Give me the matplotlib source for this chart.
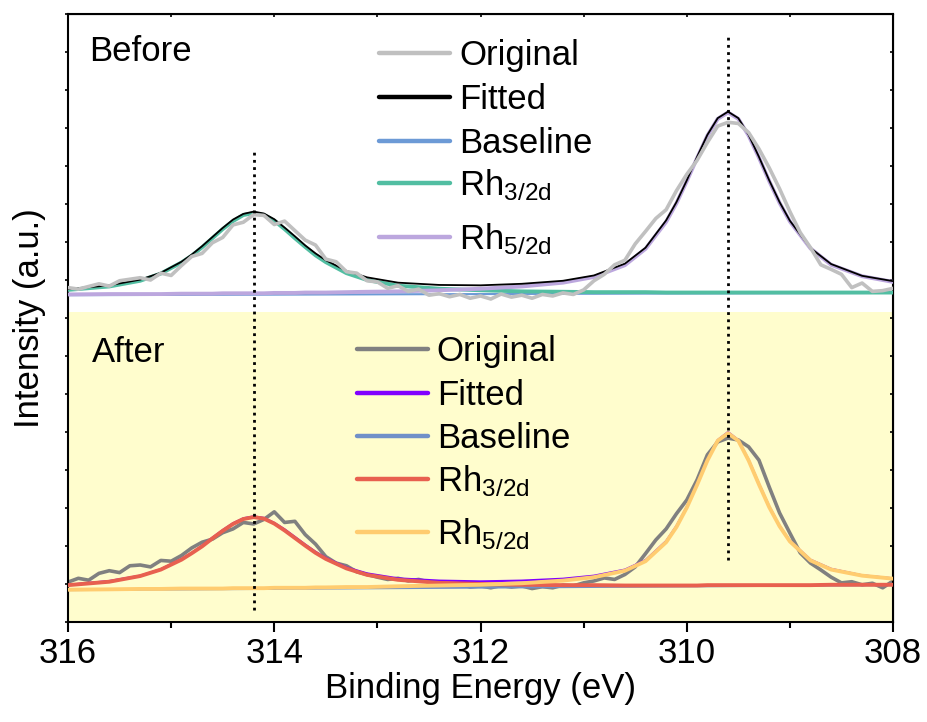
import numpy as np
import matplotlib
matplotlib.use('Agg')
import matplotlib.pyplot as plt

plt.rcParams['font.family'] = ['Liberation Sans', 'DejaVu Sans']
plt.rcParams['mathtext.fontset'] = 'custom'
plt.rcParams['mathtext.rm'] = 'Liberation Sans'
plt.rcParams['mathtext.it'] = 'Liberation Sans'
plt.rcParams['mathtext.default'] = 'rm'

# energy grid of the measured spectra (0.1 eV step)
x_raw = np.linspace(316, 308, 81)

before_orig = [8.80, 8.76, 8.83, 8.90, 8.84, 8.98, 9.02, 9.06, 9.00, 9.18,
               9.12, 9.38, 9.62, 9.70, 9.98, 10.12, 10.45, 10.52, 10.72, 10.70,
               10.46, 10.55, 10.30, 10.05, 9.92, 9.55, 9.48, 9.22, 9.18, 8.98,
               8.95, 8.78, 8.85, 8.70, 8.76, 8.60, 8.64, 8.56, 8.62, 8.52,
               8.58, 8.50, 8.63, 8.55, 8.60, 8.52, 8.62, 8.58, 8.66, 8.62,
               8.74, 8.98, 9.15, 9.40, 9.52, 9.95, 10.28, 10.62, 10.85, 11.35,
               11.78, 12.15, 12.62, 13.05, 13.15, 13.12, 12.88, 12.45, 11.95, 11.40,
               10.80, 10.25, 9.85, 9.40, 9.28, 9.15, 8.80, 8.92, 8.70, 8.72,
               8.78]

after_orig = [1.05, 1.15, 1.10, 1.28, 1.35, 1.30, 1.48, 1.50, 1.45, 1.62,
              1.60, 1.75, 1.95, 2.10, 2.18, 2.35, 2.45, 2.62, 2.58, 2.70,
              2.90, 2.62, 2.65, 2.30, 2.05, 1.72, 1.55, 1.48, 1.32, 1.25,
              1.18, 1.12, 1.15, 1.08, 1.12, 1.05, 1.02, 0.96, 1.00, 0.92,
              0.95, 0.90, 0.96, 0.92, 0.95, 0.88, 0.93, 0.90, 0.97, 0.95,
              1.03, 1.08, 1.16, 1.12, 1.25, 1.45, 1.80, 2.16, 2.45, 2.85,
              3.21, 3.74, 4.40, 4.74, 4.84, 4.79, 4.61, 4.26, 3.55, 2.87,
              2.34, 1.82, 1.55, 1.37, 1.18, 1.03, 1.06, 0.98, 1.02, 0.90,
              1.08]

# energy points of the fitted curves
x_fit = [316.0, 315.6, 315.3, 315.1, 314.9, 314.8, 314.7, 314.6, 314.5, 314.4,
         314.3, 314.2, 314.1, 314.0, 313.9, 313.8, 313.7, 313.6, 313.5, 313.3,
         313.1, 312.8, 312.4, 312.0, 311.6, 311.2, 310.9, 310.6, 310.4, 310.2,
         310.1, 310.0, 309.9, 309.8, 309.7, 309.6, 309.5, 309.4, 309.3, 309.2,
         309.1, 309.0, 308.8, 308.6, 308.3, 308.0]

before_fit = [8.76, 8.86, 9.01, 9.19, 9.48, 9.67, 9.89, 10.13, 10.37, 10.59,
              10.74, 10.80, 10.75, 10.60, 10.38, 10.15, 9.91, 9.70, 9.52, 9.24,
              9.07, 8.93, 8.87, 8.86, 8.90, 8.98, 9.12, 9.43, 9.85, 10.57,
              11.05, 11.62, 12.24, 12.82, 13.26, 13.43, 13.26, 12.82, 12.24, 11.62,
              11.05, 10.56, 9.84, 9.42, 9.11, 8.97]
before_rh32 = [8.74, 8.83, 8.98, 9.17, 9.46, 9.64, 9.86, 10.10, 10.34, 10.55,
               10.71, 10.76, 10.71, 10.56, 10.34, 10.10, 9.87, 9.65, 9.47, 9.18,
               9.00, 8.85, 8.77, 8.73, 8.70, 8.69, 8.68, 8.68, 8.68, 8.67,
               8.67, 8.67, 8.67, 8.67, 8.67, 8.67, 8.67, 8.67, 8.67, 8.67,
               8.67, 8.67, 8.67, 8.67, 8.67, 8.67]
before_rh52 = [8.62, 8.63, 8.63, 8.63, 8.64, 8.64, 8.64, 8.64, 8.65, 8.65,
               8.65, 8.65, 8.65, 8.66, 8.66, 8.66, 8.67, 8.67, 8.67, 8.68,
               8.69, 8.70, 8.73, 8.77, 8.83, 8.93, 9.08, 9.39, 9.82, 10.53,
               11.02, 11.60, 12.21, 12.80, 13.24, 13.41, 13.24, 12.80, 12.22, 11.60,
               11.03, 10.54, 9.83, 9.40, 9.10, 8.95]

after_fit = [0.98, 1.08, 1.22, 1.39, 1.66, 1.82, 2.01, 2.22, 2.42, 2.60,
             2.73, 2.78, 2.74, 2.61, 2.44, 2.24, 2.04, 1.85, 1.69, 1.44,
             1.28, 1.15, 1.09, 1.07, 1.09, 1.14, 1.22, 1.38, 1.63, 2.13,
             2.53, 3.03, 3.64, 4.27, 4.79, 5.00, 4.79, 4.27, 3.64, 3.04,
             2.53, 2.14, 1.64, 1.40, 1.23, 1.15]
after_rh32 = [0.97, 1.06, 1.21, 1.38, 1.64, 1.81, 1.99, 2.20, 2.40, 2.58,
              2.71, 2.76, 2.72, 2.59, 2.41, 2.21, 2.01, 1.82, 1.66, 1.41,
              1.24, 1.11, 1.03, 1.00, 0.98, 0.97, 0.97, 0.96, 0.96, 0.96,
              0.96, 0.96, 0.96, 0.97, 0.97, 0.97, 0.97, 0.97, 0.97, 0.97,
              0.97, 0.97, 0.97, 0.98, 0.98, 0.98]
after_rh52 = [0.85, 0.86, 0.87, 0.87, 0.88, 0.88, 0.88, 0.88, 0.88, 0.89,
              0.89, 0.89, 0.89, 0.90, 0.90, 0.90, 0.90, 0.91, 0.91, 0.92,
              0.92, 0.94, 0.96, 0.98, 1.02, 1.09, 1.18, 1.35, 1.60, 2.10,
              2.50, 3.01, 3.61, 4.25, 4.77, 4.97, 4.77, 4.25, 3.62, 3.02,
              2.52, 2.12, 1.62, 1.38, 1.22, 1.14]

x_base = [316, 308]
before_base = [8.60, 8.66]
after_base = [0.84, 0.97]

peak_pos = [314.2, 309.6]
peak_line_lo = [0.32, 1.63]
peak_line_hi = [12.47, 15.45]

labels = ['Original', 'Fitted', 'Baseline', 'Rh$_{3/2d}$', 'Rh$_{5/2d}$']
before_colors = ['#c0c0c0', '#000000', '#6c9ad6', '#52bea2', '#bca7de']
after_colors = ['#808080', '#8000ff', '#7090c8', '#e8604f', '#ffcc70']

fig = plt.figure(figsize=(9.28, 7.22), dpi=100)
ax = fig.add_axes([0.0733, 0.1385, 0.889, 0.8421])

ax.axhspan(0, 8.15, color='#fffdcd', lw=0, zorder=0)

# before
ax.plot(x_base, before_base, color=before_colors[2], lw=1.5, zorder=2)
ax.plot(x_fit, before_rh32, color=before_colors[3], lw=2.8, zorder=3)
ax.plot(x_fit, before_rh52, color=before_colors[4], lw=2.8, zorder=3)
ax.plot(x_fit, before_fit, color=before_colors[1], lw=1.3, zorder=4)
ax.plot(x_raw, before_orig, color=before_colors[0], lw=2.6, zorder=5)

# after
ax.plot(x_raw, after_orig, color=after_colors[0], lw=2.6, zorder=2)
ax.plot(x_base, after_base, color=after_colors[2], lw=1.5, zorder=3)
ax.plot(x_fit, after_fit, color=after_colors[1], lw=1.5, zorder=3)
ax.plot(x_fit, after_rh32, color=after_colors[3], lw=2.8, zorder=4)
ax.plot(x_fit, after_rh52, color=after_colors[4], lw=2.8, zorder=4)

for xp, lo, hi in zip(peak_pos, peak_line_lo, peak_line_hi):
    ax.plot([xp, xp], [lo, hi], color='k', ls=(0, (1, 1.6)), lw=2, zorder=6)

ax.text(315.80, 14.76, 'Before', fontsize=25, ha='left', va='baseline')
ax.text(315.77, 6.84, 'After', fontsize=25, ha='left', va='baseline')

# hand-placed legends (axes fractions), row handle heights as in the figure
def legend_rows(x0, rows, colors):
    for yy, c, lab in zip(rows, colors, labels):
        ax.plot([x0, x0 + 0.086], [yy, yy], color=c, lw=3.2, solid_capstyle='round',
                transform=ax.transAxes, clip_on=False, zorder=7)
        ax.text(x0 + 0.097, yy - 0.0197, lab, fontsize=25, ha='left', va='baseline',
                transform=ax.transAxes, zorder=7)

legend_rows(0.377, [0.936, 0.863, 0.791, 0.722, 0.633], before_colors)
legend_rows(0.350, [0.449, 0.377, 0.306, 0.235, 0.148], after_colors)

ax.set_xlim(316, 308)
ax.set_ylim(0, 16)
ax.set_xticks([316, 314, 312, 310, 308])
ax.set_xticks(np.arange(316, 307.5, -1), minor=True)
ax.set_yticks(np.arange(0, 17, 1))
ax.set_yticklabels([])
ax.tick_params(axis='x', which='major', direction='out', length=7.5, width=1.5,
               labelsize=25, pad=3)
ax.tick_params(axis='x', which='minor', direction='out', length=4.5, width=1.5)
ax.tick_params(axis='y', which='major', direction='out', length=2, width=1.2)
for s in ax.spines.values():
    s.set_linewidth(1.5)

top = ax.secondary_xaxis('top')
top.set_xticks(np.arange(316, 307.5, -1))
top.set_xticklabels([])
top.tick_params(direction='in', length=2.5, width=1.2)
right = ax.secondary_yaxis('right')
right.set_yticks(np.arange(0, 17, 1))
right.set_yticklabels([])
right.tick_params(direction='in', length=2.5, width=1.2)

ax.set_xlabel('Binding Energy (eV)', fontsize=25, labelpad=2)
ax.set_ylabel('Intensity (a.u.)', fontsize=25, labelpad=10)

fig.savefig('out.png', dpi=100)
